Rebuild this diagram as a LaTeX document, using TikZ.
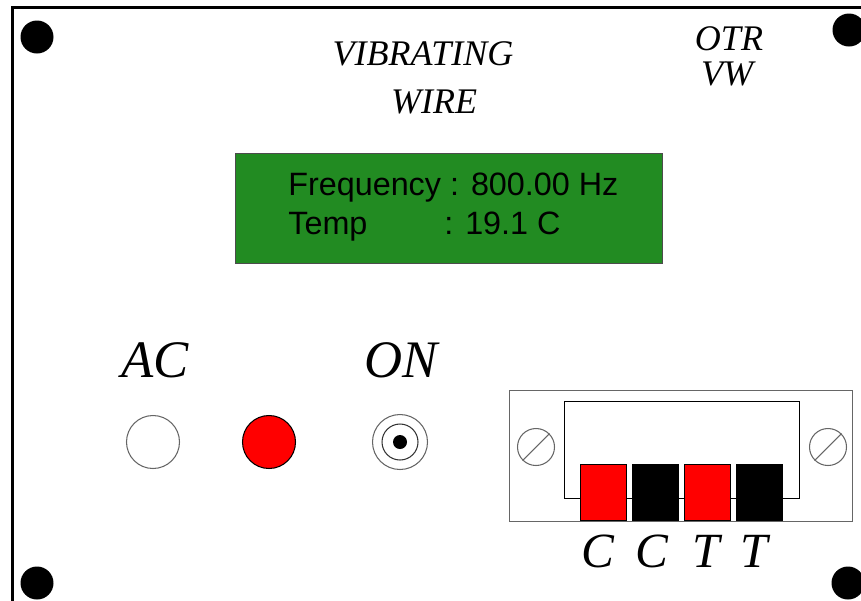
\documentclass[tikz,border=0pt]{standalone}
\usepackage{fontspec}
\setmainfont{Liberation Serif}
\newfontfamily\lcdfont{Liberation Sans}
\newcommand{\px}{0.02cm}

\begin{document}
\begin{tikzpicture}[x=\px, y=-\px,
    hole/.style={circle, fill=black, minimum size=33*\px, inner sep=0pt},
    title/.style={font=\itshape\fontsize{20.5}{20.5}\selectfont, anchor=base},
    big/.style={font=\itshape\fontsize{30}{30}\selectfont, anchor=base},
    lcdline/.style={font=\lcdfont\fontsize{18.4}{18.4}\selectfont, anchor=base west, inner sep=0pt},
    lamp/.style={circle, draw=black!60, line width=0.6pt, minimum size=53*\px, inner sep=0pt},
    box/.style={rectangle, anchor=north west, inner sep=0pt, line width=0.6pt},
    pin/.style={box, draw=black, minimum width=46*\px, minimum height=56*\px},
    screw/.style={circle, draw=black!60, line width=0.6pt, fill=white, minimum size=37*\px, inner sep=0pt}]
    \useasboundingbox (0,0) rectangle (861,600);
    \clip (0,0) rectangle (861,600);

    % Panel
    \draw[line width=3*\px] (12,7) rectangle (920,660);
    \node[hole] (hole-1) at (37,37) {};
    \node[hole] (hole-2) at (849,30) {};
    \node[hole] (hole-3) at (37,583) {};
    \node[hole] (hole-4) at (848,583) {};

    % Titles
    \node[title] (title-1) at (423,65) {VIBRATING};
    \node[title] (title-2) at (434,113) {WIRE};
    \node[title] (model-1) at (729,50) {OTR};
    \node[title] (model-2) at (727,85) {VW};

    % Display
    \node[box, draw=black!70, fill={rgb,255:red,34;green,139;blue,34}, minimum width=427*\px, minimum height=110*\px] (lcd) at (235,153) {};
    \node[lcdline] (lcd-1) at (288,195) {Frequency : 800.00 Hz};
    \node[lcdline] (lcd-2) at (288,234) {\makebox[3.12cm][l]{Temp}: 19.1 C};

    % Lamps and jack
    \node[big] (ac) at (155,377) {AC};
    \node[big] (on) at (401,377) {ON};
    \node[lamp, fill=white] (lamp-1) at (153,442) {};
    \node[lamp, draw=black, fill=red] (lamp-2) at (269,442) {};
    \node[lamp, minimum size=55*\px] (jack-out) at (400,442) {};
    \node[lamp, draw=black!80, minimum size=36*\px] (jack-in) at (400,442) {};
    \node[circle, fill=black, minimum size=14*\px, inner sep=0pt] (jack-dot) at (400,442) {};

    % Connector
    \node[box, draw=black!60, minimum width=343*\px, minimum height=131*\px] (plate) at (509,390) {};
    \node[box, draw=black, fill=white, minimum width=235*\px, minimum height=97*\px] (socket) at (564,401) {};
    \node[screw] (screw-l) at (536,447) {};
    \node[screw] (screw-r) at (828,447) {};
    \draw[black!60, line width=0.6pt] (screw-l.225) -- (screw-l.45);
    \draw[black!60, line width=0.6pt] (screw-r.225) -- (screw-r.45);

    \node[pin, fill=red] (pin-1) at (580,464) {};
    \node[pin, fill=black] (pin-2) at (632,464) {};
    \node[pin, fill=red] (pin-3) at (684,464) {};
    \node[pin, fill=black] (pin-4) at (736,464) {};

    \node[big, font=\itshape\fontsize{28}{28}\selectfont] (pin-label-1) at (598,567) {C};
    \node[big, font=\itshape\fontsize{28}{28}\selectfont] (pin-label-2) at (652,567) {C};
    \node[big, font=\itshape\fontsize{28}{28}\selectfont] (pin-label-3) at (706,567) {T};
    \node[big, font=\itshape\fontsize{28}{28}\selectfont] (pin-label-4) at (754,567) {T};

\end{tikzpicture}
\end{document}
